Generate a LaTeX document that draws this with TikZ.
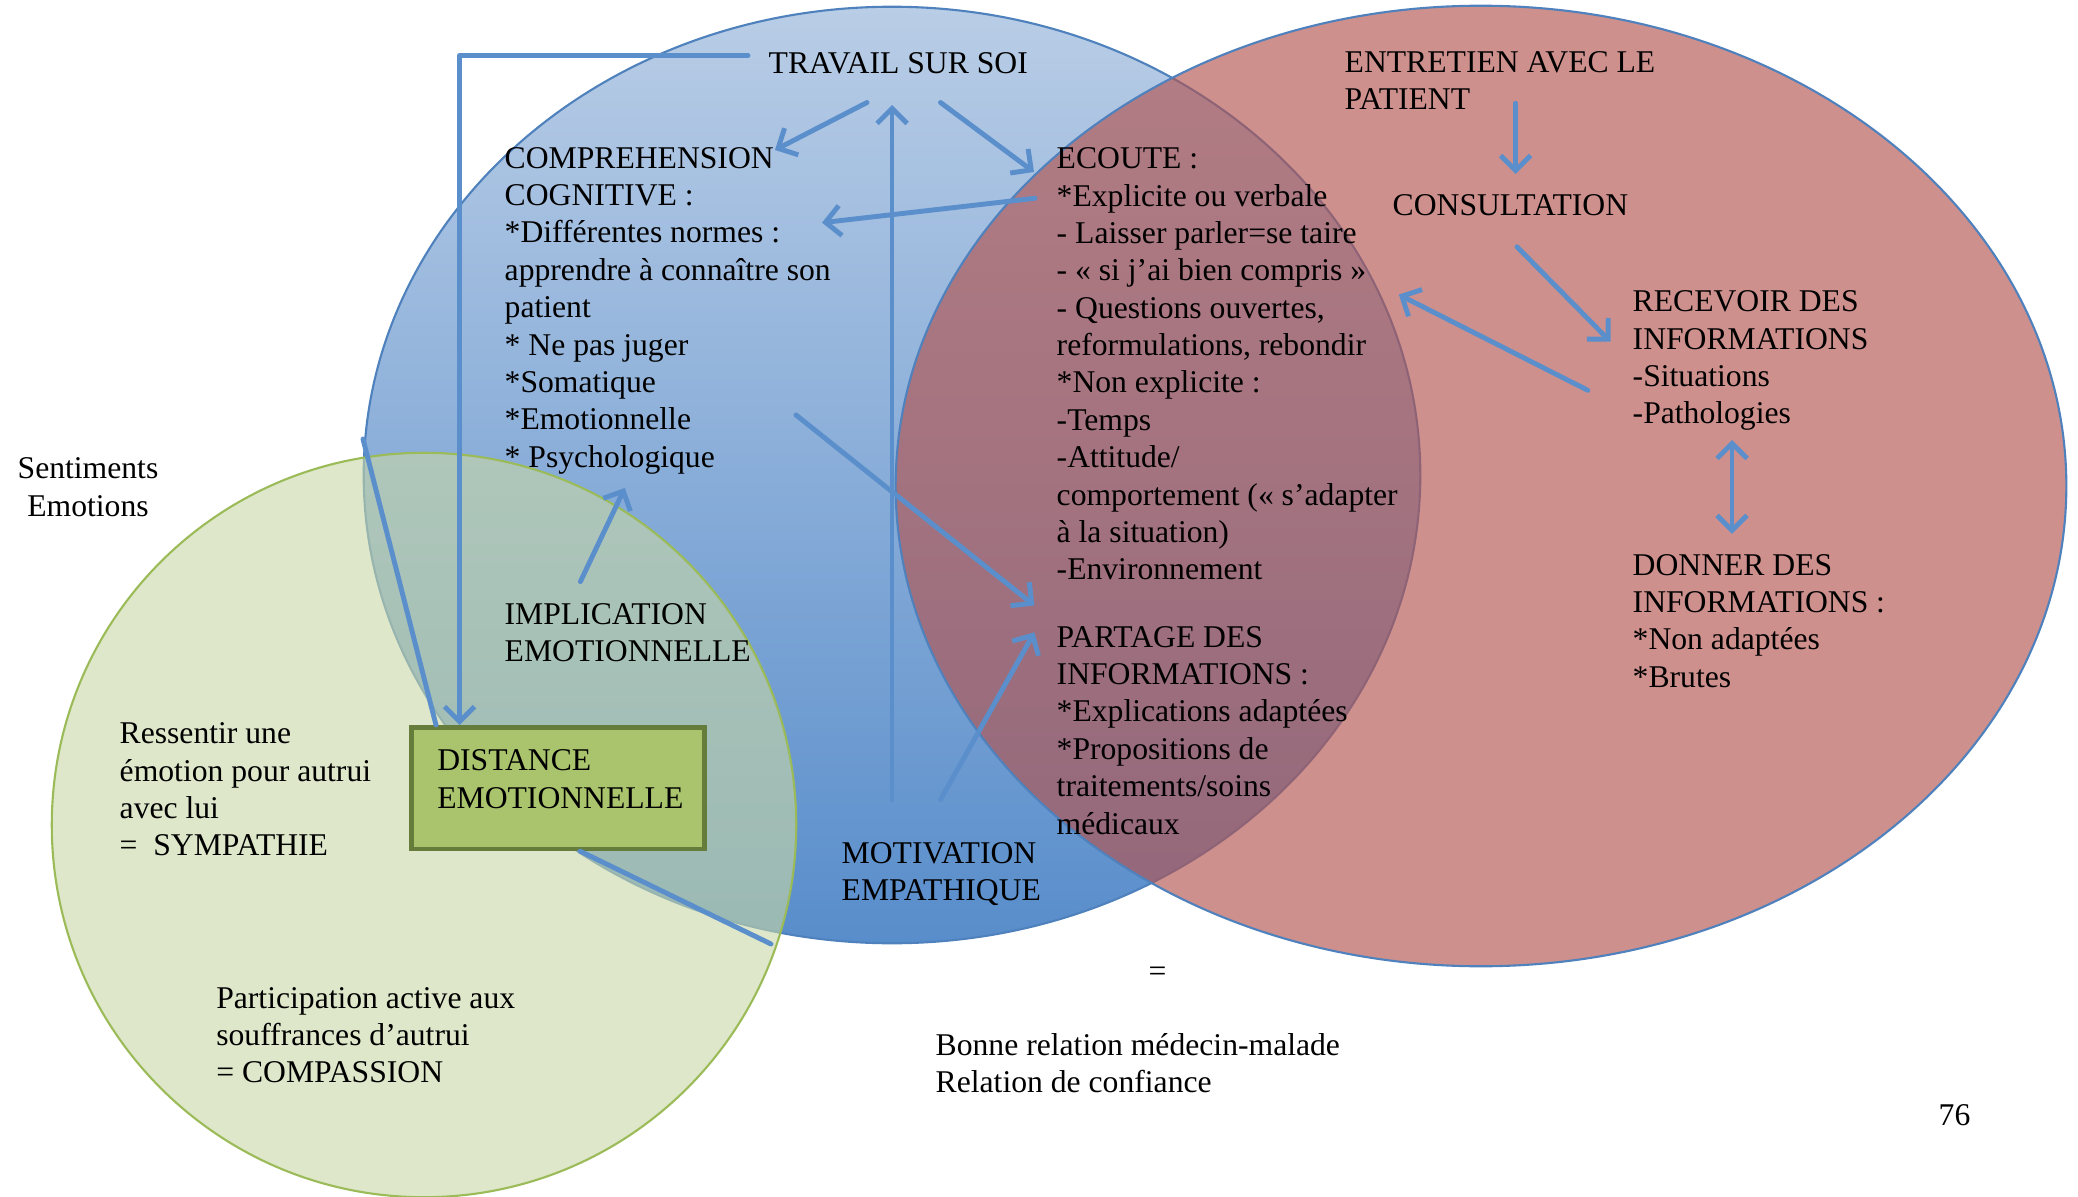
\documentclass[tikz,border=0pt]{standalone}
\usepackage{fontspec}
\setmainfont{Liberation Serif}
\usetikzlibrary{arrows.meta}

\definecolor{arrowblue}{RGB}{91,143,204}
\definecolor{ellblue}{RGB}{79,129,189}
\definecolor{bluetop}{RGB}{185,205,230}
\definecolor{bluebot}{RGB}{88,141,203}
\definecolor{redfill}{RGB}{178,84,80}
\definecolor{greenfill}{RGB}{200,215,165}
\definecolor{greenline}{RGB}{155,187,89}
\definecolor{boxfill}{RGB}{169,196,108}
\definecolor{boxline}{RGB}{102,124,58}

\begin{document}
\begin{tikzpicture}
        [x=0.01cm, y=-0.01cm,
        every node/.style={inner sep=0pt, anchor=north west, align=left, font=\fontsize{9}{10.63}\selectfont},
        arr/.style={draw=arrowblue, line width=1.4pt, line cap=round, line join=round, -{Straight Barb[length=1.5mm,width=3mm]}},
        plain/.style={draw=arrowblue, line width=1.4pt, line cap=round},
        distbox/.style={anchor=north west, fill=boxfill, draw=boxline, line width=1.3pt, inner xsep=0.26cm, inner ysep=0.22cm, text width=2.41cm, text height=0.215cm, text depth=0.56cm},
        blue set/.style={top color=bluetop, bottom color=bluebot, draw=ellblue, line width=0.6pt},
        red set/.style={fill=redfill, fill opacity=0.65, draw=ellblue, line width=0.6pt},
        green set/.style={fill=greenfill, fill opacity=0.6, draw=greenline, line width=0.6pt}]

        \useasboundingbox (0,0) rectangle (2078,1197);

        \path[blue set] (892,475) ellipse [x radius=5.28cm, y radius=4.68cm];
        \path[red set] (1481,486) ellipse [x radius=5.85cm, y radius=4.80cm];
        \path[green set] (424,825) ellipse [x radius=3.72cm, y radius=3.72cm];

        \node (travail) at (768,51.5) {TRAVAIL SUR SOI};
        \node (compr) at (504,146.5) {COMPREHENSION\\COGNITIVE :\\*Différentes normes :\\apprendre à connaître son\\patient\\* Ne pas juger\\*Somatique\\*Emotionnelle\\* Psychologique};
        \node (ecoute) at (1056,147) {ECOUTE :\\*Explicite ou verbale\\- Laisser parler=se taire\\- « si j’ai bien compris »\\- Questions ouvertes,\\reformulations, rebondir\\*Non explicite :\\-Temps\\-Attitude/\\comportement (« s’adapter\\à la situation)\\-Environnement};
        \node (partage) at (1056,625.5) {PARTAGE DES\\INFORMATIONS :\\*Explications adaptées\\*Propositions de\\traitements/soins\\médicaux};
        \node (entretien) at (1344,50.5) {ENTRETIEN AVEC LE\\PATIENT};
        \node (consult) at (1392,193.5) {CONSULTATION};
        \node (recevoir) at (1632,290) {RECEVOIR DES\\INFORMATIONS\\-Situations\\-Pathologies};
        \node (donner) at (1632,553.5) {DONNER DES\\INFORMATIONS :\\*Non adaptées\\*Brutes};
        \node[anchor=north, align=center] (sentiments) at (88,457) {Sentiments\\Emotions};
        \node (implication) at (504,602.5) {IMPLICATION\\EMOTIONNELLE};
        \node (ressentir) at (119,722) {Ressentir une\\émotion pour autrui\\avec lui\\=\ \ SYMPATHIE};
        \node[distbox] (distance) at (409,725) {DISTANCE\\EMOTIONNELLE};
        \node (motivation) at (841,841.5) {MOTIVATION\\EMPATHIQUE};
        \node (participation) at (215.6,986.5) {Participation active aux\\souffrances d’autrui\\= COMPASSION};
        \node[anchor=base west] (egal) at (1148,981) {=};
        \node (bonne) at (935,1032.5) {Bonne relation médecin-malade\\Relation de confiance};
        \node[anchor=base west] (page) at (1938,1125.5) {76};

        \coordinate (sentline) at (363,439);
        \coordinate (distline) at (771,944);

        \draw[arr] ([shift={(99,51)}]travail.north west) -- ([shift={(271,3.5)}]compr.north west);
        \draw[arr] ([shift={(51,-41.5)}]motivation.north west) -- ([shift={(124,53.5)}]travail.north west);
        \draw[arr] ([shift={(172.5,51)}]travail.north west) -- ([shift={(-22,25)}]ecoute.north west);
        \draw[arr] ([shift={(-21,51.3)}]ecoute.north west) -- ([shift={(318,76.2)}]compr.north west);
        \draw[arr] ([shift={(-20,4)}]travail.north west) -| ([shift={(50.5,0)}]distance.north west);
        \draw[plain] (sentline) -- ([shift={(27,0)}]distance.north west);
        \draw[arr] ([shift={(76.4,-20.9)}]implication.north west) -- ([shift={(120.8,341.5)}]compr.north west);
        \draw[arr] ([shift={(292,268.5)}]compr.north west) -- ([shift={(-21.6,-20)}]partage.north west);
        \draw[arr] ([shift={(99.5,-41.8)}]motivation.north west) -- ([shift={(-21.6,6.8)}]partage.north west);
        \draw[plain] ([shift={(171,0)}]distance.south west) -- (distline);
        \draw[arr] ([shift={(171.6,52.8)}]entretien.north west) -- ([shift={(123.6,-19.5)}]consult.north west);
        \draw[arr] ([shift={(125,53.3)}]consult.north west) -- ([shift={(-21.5,51.7)}]recevoir.north west);
        \draw[arr] ([shift={(-44.2,100.3)}]recevoir.north west) -- ([shift={(342.8,147.6)}]ecoute.north west);
        \draw[arr, {Straight Barb[length=1.5mm,width=3mm]}-{Straight Barb[length=1.5mm,width=3mm]}] ([shift={(100,150)}]recevoir.north west) -- ([shift={(100,-19.7)}]donner.north west);
\end{tikzpicture}
\end{document}
